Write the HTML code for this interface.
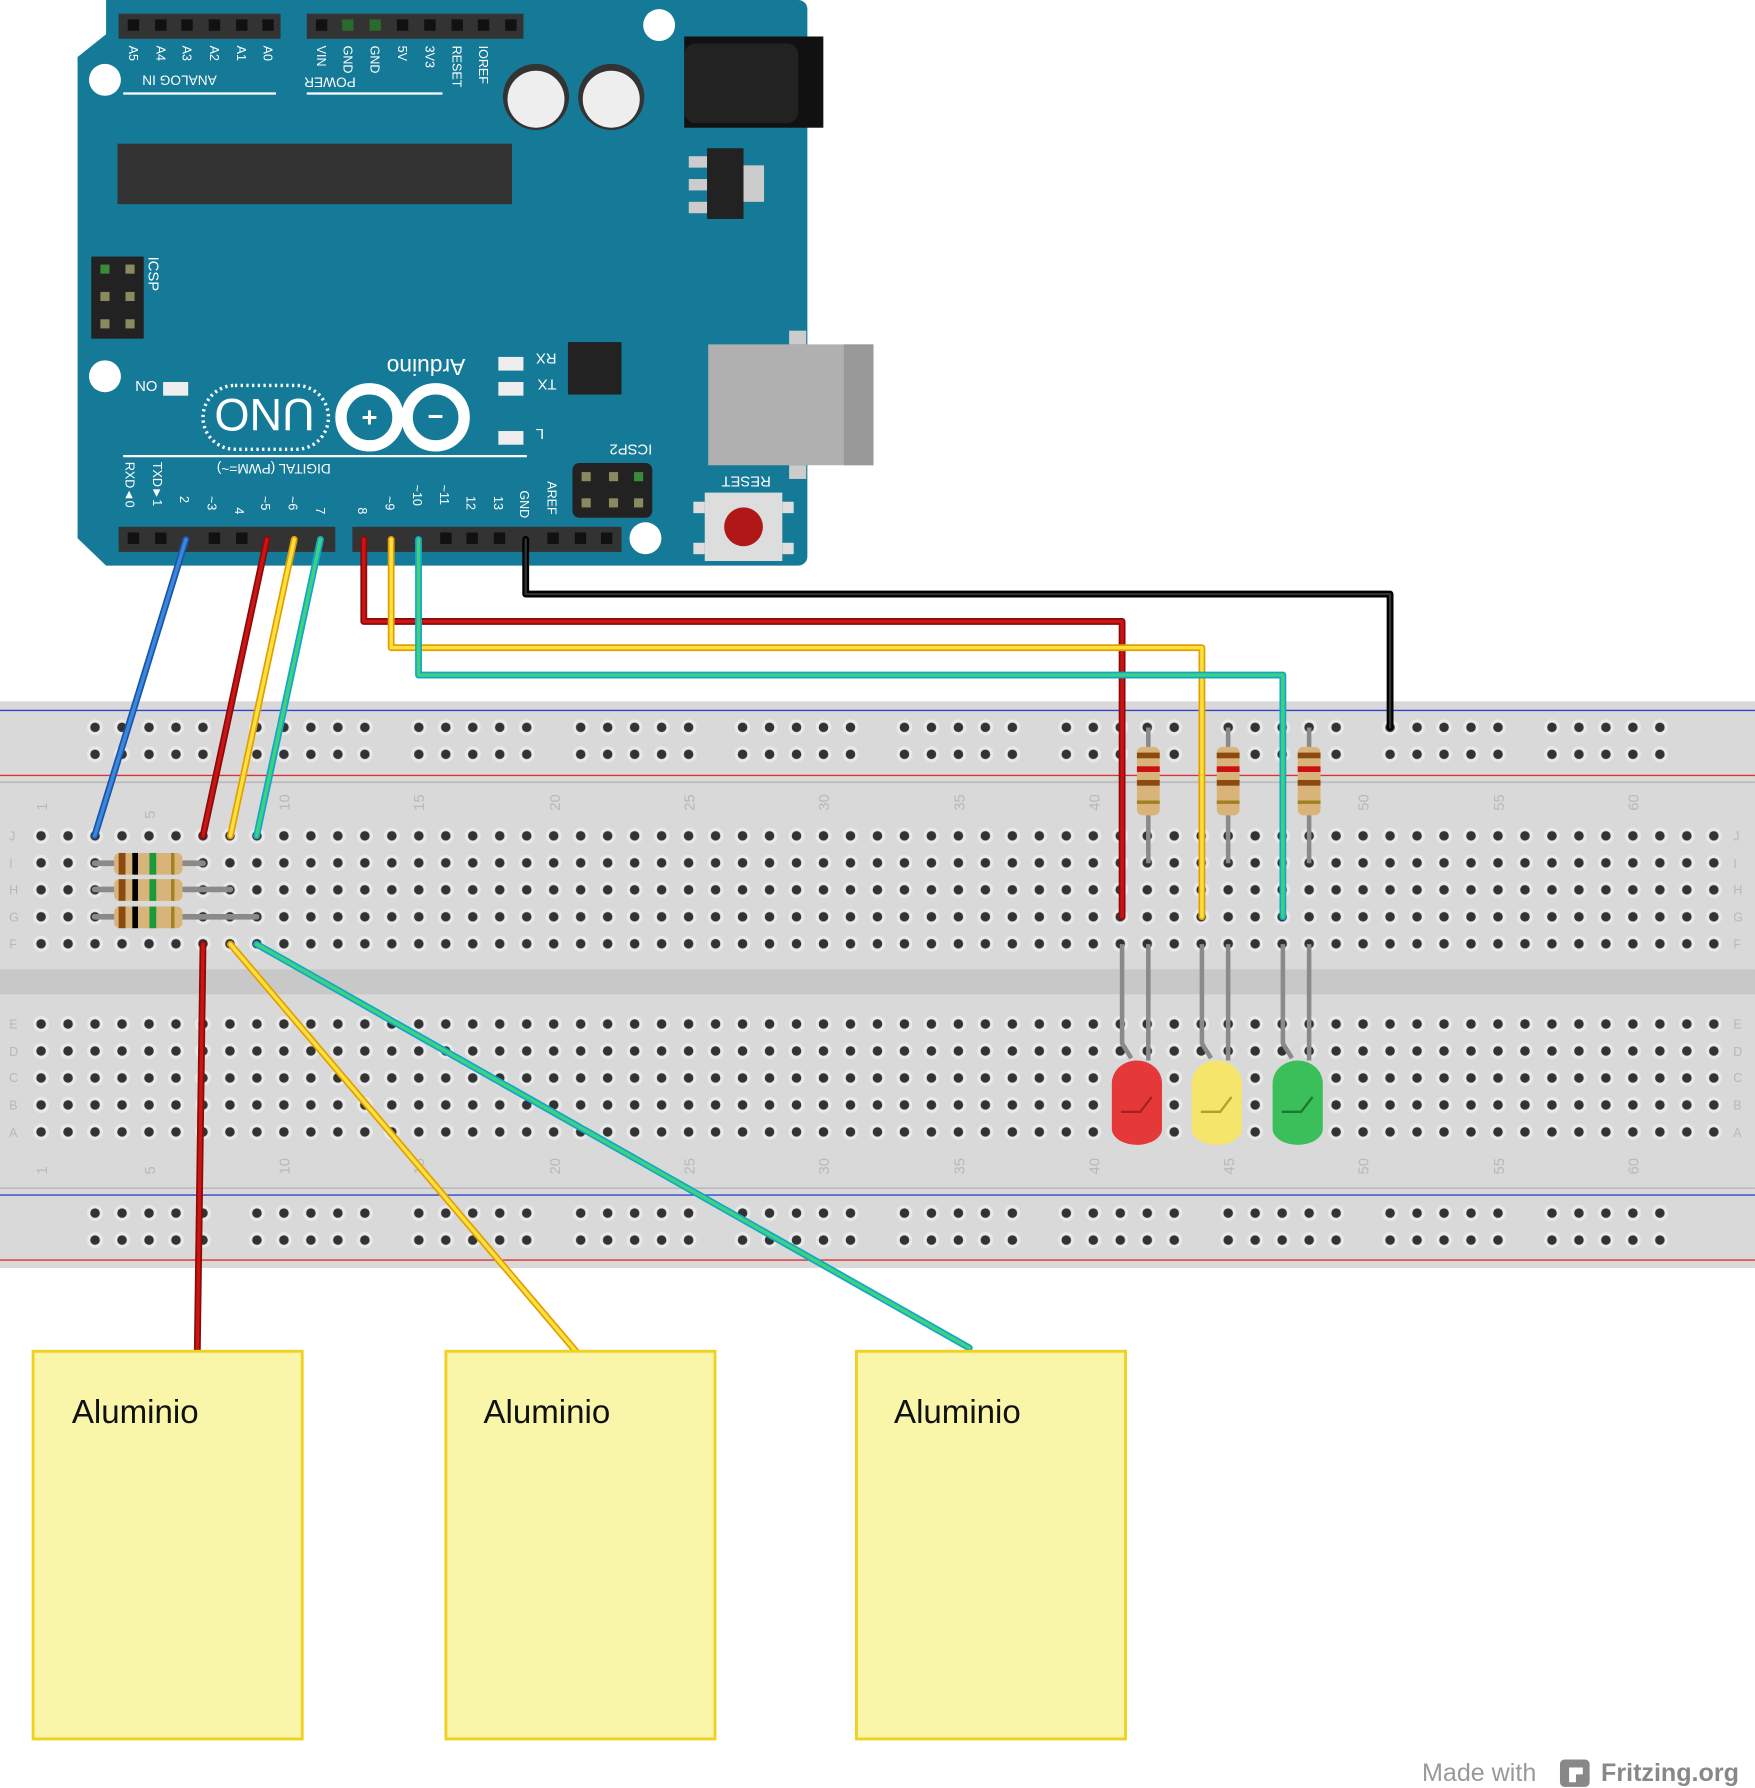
<!DOCTYPE html>
<html><head><meta charset="utf-8"><style>html,body{margin:0;padding:0;background:#fff}svg{display:block}</style></head><body>
<svg width="1755" height="1788" viewBox="0 0 1539 1568" xmlns="http://www.w3.org/2000/svg" font-family="Liberation Sans, sans-serif">
<defs>
<pattern id="h" x="24.17" y="721.17" width="23.66" height="23.66" patternUnits="userSpaceOnUse">
<circle cx="11.83" cy="11.83" r="7" fill="#e9e9e9"/><circle cx="11.83" cy="11.83" r="4.2" fill="#333"/></pattern>
<pattern id="h2" x="24.17" y="886.17" width="23.66" height="23.66" patternUnits="userSpaceOnUse">
<circle cx="11.83" cy="11.83" r="7" fill="#e9e9e9"/><circle cx="11.83" cy="11.83" r="4.2" fill="#333"/></pattern>
<pattern id="r" x="71.5" y="626" width="141.96" height="23.66" patternUnits="userSpaceOnUse">
<g fill="#e9e9e9"><circle cx="11.83" cy="11.83" r="7"/><circle cx="35.49" cy="11.83" r="7"/><circle cx="59.15" cy="11.83" r="7"/><circle cx="82.81" cy="11.83" r="7"/><circle cx="106.47" cy="11.83" r="7"/></g>
<g fill="#333"><circle cx="11.83" cy="11.83" r="4.2"/><circle cx="35.49" cy="11.83" r="4.2"/><circle cx="59.15" cy="11.83" r="4.2"/><circle cx="82.81" cy="11.83" r="4.2"/><circle cx="106.47" cy="11.83" r="4.2"/></g></pattern>
<pattern id="r2" x="71.5" y="1052" width="141.96" height="23.66" patternUnits="userSpaceOnUse">
<g fill="#e9e9e9"><circle cx="11.83" cy="11.83" r="7"/><circle cx="35.49" cy="11.83" r="7"/><circle cx="59.15" cy="11.83" r="7"/><circle cx="82.81" cy="11.83" r="7"/><circle cx="106.47" cy="11.83" r="7"/></g>
<g fill="#333"><circle cx="11.83" cy="11.83" r="4.2"/><circle cx="35.49" cy="11.83" r="4.2"/><circle cx="59.15" cy="11.83" r="4.2"/><circle cx="82.81" cy="11.83" r="4.2"/><circle cx="106.47" cy="11.83" r="4.2"/></g></pattern>
</defs>

<!-- Breadboard -->
<rect x="0" y="615" width="1539" height="497" fill="#d9d9d9"/>
<line x1="0" y1="623" x2="1539" y2="623" stroke="#3344cc" stroke-width="1.2"/>
<line x1="0" y1="680" x2="1539" y2="680" stroke="#dd3333" stroke-width="1.2"/>
<line x1="0" y1="686" x2="1539" y2="686" stroke="#bbb" stroke-width="1.5"/>
<rect x="0" y="850" width="1539" height="22" fill="#c8c8c8"/>
<line x1="0" y1="1042" x2="1539" y2="1042" stroke="#bbb" stroke-width="1.5"/>
<line x1="0" y1="1048" x2="1539" y2="1048" stroke="#3344cc" stroke-width="1.2"/>
<line x1="0" y1="1105" x2="1539" y2="1105" stroke="#dd3333" stroke-width="1.2"/>
<rect x="71.5" y="626" width="1396" height="48" fill="url(#r)"/>
<rect x="71.5" y="1052" width="1396" height="48" fill="url(#r2)"/>
<rect x="24.17" y="721.17" width="1490.6" height="118.3" fill="url(#h)"/>
<rect x="24.17" y="886.17" width="1490.6" height="118.3" fill="url(#h2)"/>
<g fill="#b8b8b8" font-size="13">
<g transform="translate(41,711) rotate(-90)"><text>1</text></g>
<g transform="translate(136,718) rotate(-90)"><text>5</text></g>
<g transform="translate(254,711) rotate(-90)"><text>10</text></g>
<g transform="translate(372,711) rotate(-90)"><text>15</text></g>
<g transform="translate(491,711) rotate(-90)"><text>20</text></g>
<g transform="translate(609,711) rotate(-90)"><text>25</text></g>
<g transform="translate(727,711) rotate(-90)"><text>30</text></g>
<g transform="translate(846,711) rotate(-90)"><text>35</text></g>
<g transform="translate(964,711) rotate(-90)"><text>40</text></g>
<g transform="translate(1082,711) rotate(-90)"><text>45</text></g>
<g transform="translate(1200,711) rotate(-90)"><text>50</text></g>
<g transform="translate(1319,711) rotate(-90)"><text>55</text></g>
<g transform="translate(1437,711) rotate(-90)"><text>60</text></g>
<g transform="translate(41,1030) rotate(-90)"><text>1</text></g>
<g transform="translate(136,1030) rotate(-90)"><text>5</text></g>
<g transform="translate(254,1030) rotate(-90)"><text>10</text></g>
<g transform="translate(372,1030) rotate(-90)"><text>15</text></g>
<g transform="translate(491,1030) rotate(-90)"><text>20</text></g>
<g transform="translate(609,1030) rotate(-90)"><text>25</text></g>
<g transform="translate(727,1030) rotate(-90)"><text>30</text></g>
<g transform="translate(846,1030) rotate(-90)"><text>35</text></g>
<g transform="translate(964,1030) rotate(-90)"><text>40</text></g>
<g transform="translate(1082,1030) rotate(-90)"><text>45</text></g>
<g transform="translate(1200,1030) rotate(-90)"><text>50</text></g>
<g transform="translate(1319,1030) rotate(-90)"><text>55</text></g>
<g transform="translate(1437,1030) rotate(-90)"><text>60</text></g>
<g font-size="11"><text x="8" y="737">J</text><text x="8" y="761">I</text><text x="8" y="784">H</text><text x="8" y="808">G</text><text x="8" y="832">F</text>
<text x="8" y="902">E</text><text x="8" y="926">D</text><text x="8" y="949">C</text><text x="8" y="973">B</text><text x="8" y="997">A</text>
<text x="1520" y="737">J</text><text x="1520" y="761">I</text><text x="1520" y="784">H</text><text x="1520" y="808">G</text><text x="1520" y="832">F</text>
<text x="1520" y="902">E</text><text x="1520" y="926">D</text><text x="1520" y="949">C</text><text x="1520" y="973">B</text><text x="1520" y="997">A</text></g>
</g>

<!-- Left resistors -->
<g stroke="#8a8a8a" stroke-width="5" stroke-linecap="round">
<line x1="83" y1="757" x2="178" y2="757"/><line x1="83" y1="780" x2="202" y2="780"/><line x1="83" y1="804" x2="225" y2="804"/>
</g>
<g>
<rect x="100" y="748" width="60" height="19" rx="5" fill="#d9b47a"/><rect x="104" y="748" width="6" height="19" fill="#8a4a10"/><rect x="116" y="748" width="5" height="19" fill="#000"/><rect x="131" y="748" width="6" height="19" fill="#1a9a3a"/><rect x="150" y="748" width="3" height="19" fill="#a08020"/>
<rect x="100" y="771" width="60" height="19" rx="5" fill="#d9b47a"/><rect x="104" y="771" width="6" height="19" fill="#8a4a10"/><rect x="116" y="771" width="5" height="19" fill="#000"/><rect x="131" y="771" width="6" height="19" fill="#1a9a3a"/><rect x="150" y="771" width="3" height="19" fill="#a08020"/>
<rect x="100" y="795" width="60" height="19" rx="5" fill="#d9b47a"/><rect x="104" y="795" width="6" height="19" fill="#8a4a10"/><rect x="116" y="795" width="5" height="19" fill="#000"/><rect x="131" y="795" width="6" height="19" fill="#1a9a3a"/><rect x="150" y="795" width="3" height="19" fill="#a08020"/>
</g>

<!-- Vertical resistors -->
<g stroke="#8a8a8a" stroke-width="4">
<line x1="1007" y1="638" x2="1007" y2="757"/><line x1="1077" y1="638" x2="1077" y2="757"/><line x1="1148" y1="638" x2="1148" y2="757"/>
</g>
<g>
<rect x="997" y="655" width="20" height="60" rx="5" fill="#d9b47a"/><rect x="997" y="660" width="20" height="5" fill="#8a4a10"/><rect x="997" y="672" width="20" height="5" fill="#cc1111"/><rect x="997" y="684" width="20" height="5" fill="#8a4a10"/><rect x="997" y="702" width="20" height="3" fill="#a08020"/>
<rect x="1067" y="655" width="20" height="60" rx="5" fill="#d9b47a"/><rect x="1067" y="660" width="20" height="5" fill="#8a4a10"/><rect x="1067" y="672" width="20" height="5" fill="#cc1111"/><rect x="1067" y="684" width="20" height="5" fill="#8a4a10"/><rect x="1067" y="702" width="20" height="3" fill="#a08020"/>
<rect x="1138" y="655" width="20" height="60" rx="5" fill="#d9b47a"/><rect x="1138" y="660" width="20" height="5" fill="#8a4a10"/><rect x="1138" y="672" width="20" height="5" fill="#cc1111"/><rect x="1138" y="684" width="20" height="5" fill="#8a4a10"/><rect x="1138" y="702" width="20" height="3" fill="#a08020"/>
</g>

<!-- LEDs -->
<g stroke="#8a8a8a" stroke-width="4" fill="none">
<path d="M984 828 V915 L992 928"/><path d="M1007 828 V930"/>
<path d="M1054 828 V915 L1062 928"/><path d="M1077 828 V930"/>
<path d="M1125 828 V915 L1133 928"/><path d="M1148 828 V930"/>
</g>
<path d="M975 950 a22 20 0 0 1 44 0 V990 a22 14 0 0 1 -44 0 Z" fill="#e53838"/>
<path d="M1045 950 a22 20 0 0 1 44 0 V990 a22 14 0 0 1 -44 0 Z" fill="#f5e56a"/>
<path d="M1116 950 a22 20 0 0 1 44 0 V990 a22 14 0 0 1 -44 0 Z" fill="#3bbf5a"/>
<g fill="none" stroke-width="2"><path d="M983 975 H1000 L1010 962" stroke="#a82020"/><path d="M1053 975 H1070 L1080 962" stroke="#b0a030"/><path d="M1124 975 H1141 L1151 962" stroke="#1a7a30"/></g>

<!-- Arduino -->
<path d="M93 0 H700 a8 8 0 0 1 8 8 V488 a8 8 0 0 1 -8 8 H93 L68 472 V50 L93 30 Z" fill="#157a98"/>
<rect x="104" y="12" width="142" height="22" fill="#333"/><rect x="269" y="12" width="190" height="22" fill="#333"/>
<g fill="#111"><rect x="112" y="17" width="10" height="10"/><rect x="136" y="17" width="10" height="10"/><rect x="159" y="17" width="10" height="10"/><rect x="183" y="17" width="10" height="10"/><rect x="207" y="17" width="10" height="10"/><rect x="230" y="17" width="10" height="10"/>
<rect x="277" y="17" width="10" height="10"/><rect x="300" y="17" width="10" height="10" fill="#2a6a2a"/><rect x="324" y="17" width="10" height="10" fill="#2a6a2a"/><rect x="348" y="17" width="10" height="10"/><rect x="372" y="17" width="10" height="10"/><rect x="396" y="17" width="10" height="10"/><rect x="419" y="17" width="10" height="10"/><rect x="443" y="17" width="10" height="10"/></g>
<circle cx="578" cy="22" r="14" fill="#fff"/><circle cx="92" cy="70" r="14" fill="#fff"/><circle cx="92" cy="330" r="14" fill="#fff"/><circle cx="566" cy="472" r="14" fill="#fff"/>
<rect x="103" y="126" width="346" height="53" fill="#333"/>
<rect x="600" y="32" width="122" height="80" fill="#111"/><rect x="600" y="38" width="100" height="70" rx="10" fill="#222"/>
<circle cx="470" cy="85" r="29" fill="#333"/><circle cx="470" cy="87" r="25" fill="#eee"/>
<circle cx="536" cy="85" r="29" fill="#333"/><circle cx="536" cy="87" r="25" fill="#eee"/>
<rect x="620" y="130" width="32" height="62" fill="#222"/><rect x="604" y="137" width="16" height="10" fill="#ccc"/><rect x="604" y="157" width="16" height="10" fill="#ccc"/><rect x="604" y="177" width="16" height="10" fill="#ccc"/><rect x="652" y="145" width="18" height="32" fill="#ccc"/>
<rect x="80" y="225" width="46" height="72" fill="#222"/>
<g fill="#8a8a60"><rect x="88" y="232" width="8" height="8" fill="#3a8a3a"/><rect x="110" y="232" width="8" height="8"/><rect x="88" y="256" width="8" height="8"/><rect x="110" y="256" width="8" height="8"/><rect x="88" y="280" width="8" height="8"/><rect x="110" y="280" width="8" height="8"/></g>
<rect x="498" y="300" width="47" height="46" fill="#222"/>
<rect x="621" y="302" width="145" height="106" fill="#b0b0b0"/><rect x="740" y="302" width="26" height="106" fill="#999"/><rect x="692" y="290" width="15" height="12" fill="#ccc"/><rect x="692" y="408" width="15" height="12" fill="#ccc"/>
<rect x="618" y="432" width="68" height="60" fill="#ddd"/><rect x="608" y="440" width="10" height="10" fill="#ddd"/><rect x="686" y="440" width="10" height="10" fill="#ddd"/><rect x="608" y="476" width="10" height="10" fill="#ddd"/><rect x="686" y="476" width="10" height="10" fill="#ddd"/><circle cx="652" cy="462" r="17" fill="#b01818"/>
<rect x="502" y="406" width="70" height="48" rx="6" fill="#222"/>
<g fill="#8a8a60"><rect x="510" y="414" width="8" height="8"/><rect x="534" y="414" width="8" height="8"/><rect x="556" y="414" width="8" height="8" fill="#3a8a3a"/><rect x="510" y="437" width="8" height="8"/><rect x="534" y="437" width="8" height="8"/><rect x="556" y="437" width="8" height="8"/></g>
<rect x="437" y="313" width="22" height="12" fill="#eee"/><rect x="437" y="335" width="22" height="12" fill="#eee"/><rect x="437" y="378" width="22" height="12" fill="#eee"/><rect x="143" y="335" width="22" height="12" fill="#eee"/>
<rect x="178" y="338" width="110" height="56" rx="28" fill="none" stroke="#fff" stroke-width="3" stroke-dasharray="2 3"/>
<circle cx="324" cy="366" r="25" fill="none" stroke="#fff" stroke-width="10"/><circle cx="382" cy="366" r="25" fill="none" stroke="#fff" stroke-width="10"/>
<text x="317" y="374" fill="#fff" font-size="24" font-weight="bold">+</text><text x="375" y="373" fill="#fff" font-size="24" font-weight="bold">−</text>
<g fill="#fff"><text transform="translate(276,350) rotate(180)" font-size="40" textLength="88" lengthAdjust="spacingAndGlyphs">UNO</text>
<text transform="translate(408,315) rotate(180)" font-size="20">Arduino</text>
<text transform="translate(190,66) rotate(180)" font-size="12">ANALOG IN</text>
<text transform="translate(312,68) rotate(180)" font-size="12">POWER</text>
<text transform="translate(290,407) rotate(180)" font-size="12">DIGITAL (PWM=~)</text>
<text transform="translate(488,310) rotate(180)" font-size="13">RX</text>
<text transform="translate(488,333) rotate(180)" font-size="13">TX</text>
<text transform="translate(477,376) rotate(180)" font-size="13">L</text>
<text transform="translate(138,334) rotate(180)" font-size="13">ON</text>
<text transform="translate(676,418) rotate(180)" font-size="13">RESET</text>
<text transform="translate(572,390) rotate(180)" font-size="13">ICSP2</text>
<text transform="translate(130,225) rotate(90)" font-size="13">ICSP</text>
<g font-size="11">
<text transform="translate(113,40) rotate(90)">A5</text><text transform="translate(137,40) rotate(90)">A4</text><text transform="translate(160,40) rotate(90)">A3</text><text transform="translate(184,40) rotate(90)">A2</text><text transform="translate(208,40) rotate(90)">A1</text><text transform="translate(231,40) rotate(90)">A0</text>
<text transform="translate(278,40) rotate(90)">VIN</text><text transform="translate(301,40) rotate(90)">GND</text><text transform="translate(325,40) rotate(90)">GND</text><text transform="translate(349,40) rotate(90)">5V</text><text transform="translate(373,40) rotate(90)">3V3</text><text transform="translate(397,40) rotate(90)">RESET</text><text transform="translate(420,40) rotate(90)">IOREF</text>
<text transform="translate(110,405) rotate(90)">RXD◄0</text><text transform="translate(134,405) rotate(90)">TXD►1</text><text transform="translate(158,435) rotate(90)">2</text><text transform="translate(182,435) rotate(90)">~3</text><text transform="translate(206,445) rotate(90)">4</text><text transform="translate(229,435) rotate(90)">~5</text><text transform="translate(253,435) rotate(90)">~6</text><text transform="translate(277,445) rotate(90)">7</text>
<text transform="translate(314,445) rotate(90)">8</text><text transform="translate(338,435) rotate(90)">~9</text><text transform="translate(362,425) rotate(90)">~10</text><text transform="translate(386,425) rotate(90)">~11</text><text transform="translate(409,435) rotate(90)">12</text><text transform="translate(433,435) rotate(90)">13</text><text transform="translate(456,430) rotate(90)">GND</text><text transform="translate(480,422) rotate(90)">AREF</text>
</g>
</g>
<line x1="108" y1="82" x2="242" y2="82" stroke="#fff" stroke-width="2"/><line x1="269" y1="82" x2="388" y2="82" stroke="#fff" stroke-width="2"/>
<line x1="108" y1="400" x2="462" y2="400" stroke="#fff" stroke-width="2"/>
<rect x="104" y="462" width="190" height="22" fill="#333"/><rect x="309" y="462" width="236" height="22" fill="#333"/>
<g fill="#111"><rect x="112" y="467" width="10" height="10"/><rect x="136" y="467" width="10" height="10"/><rect x="183" y="467" width="10" height="10"/><rect x="207" y="467" width="10" height="10"/><rect x="386" y="467" width="10" height="10"/><rect x="409" y="467" width="10" height="10"/><rect x="433" y="467" width="10" height="10"/><rect x="480" y="467" width="10" height="10"/><rect x="504" y="467" width="10" height="10"/><rect x="527" y="467" width="10" height="10"/></g>

<!-- wires -->
<g fill="none" stroke-linecap="round" stroke-linejoin="round" stroke-width="6">
<line x1="163" y1="473" x2="83" y2="733" stroke="#1a55a8"/>
<line x1="163" y1="473" x2="83" y2="733" stroke="#3a88dd" stroke-width="3"/>
<line x1="234" y1="473" x2="178" y2="733" stroke="#8a0a0a"/><line x1="234" y1="473" x2="178" y2="733" stroke="#cc1414" stroke-width="3"/>
<line x1="258" y1="473" x2="202" y2="733" stroke="#e0a000"/><line x1="258" y1="473" x2="202" y2="733" stroke="#ffe040" stroke-width="3"/>
<line x1="281" y1="473" x2="225" y2="733" stroke="#10a8c8"/><line x1="281" y1="473" x2="225" y2="733" stroke="#40d080" stroke-width="3"/>
<path d="M461 473 V521 H1219 V638" stroke="#000"/><path d="M461 473 V521 H1219 V638" stroke="#333" stroke-width="2"/>
<path d="M319 473 V545 H984 V804" stroke="#8a0a0a"/><path d="M319 473 V545 H984 V804" stroke="#cc1414" stroke-width="3"/>
<path d="M343 473 V568 H1054 V804" stroke="#e0a000"/><path d="M343 473 V568 H1054 V804" stroke="#ffe040" stroke-width="3"/>
<path d="M367 473 V592 H1125 V804" stroke="#10a8c8"/><path d="M367 473 V592 H1125 V804" stroke="#40d080" stroke-width="3"/>
<line x1="178" y1="828" x2="173" y2="1185" stroke="#8a0a0a"/><line x1="178" y1="828" x2="173" y2="1185" stroke="#cc1414" stroke-width="3"/>
<line x1="202" y1="828" x2="505" y2="1185" stroke="#e0a000"/><line x1="202" y1="828" x2="505" y2="1185" stroke="#ffe040" stroke-width="3"/>
<line x1="225" y1="828" x2="850" y2="1182" stroke="#10a8c8"/><line x1="225" y1="828" x2="850" y2="1182" stroke="#40d080" stroke-width="3"/>
</g>

<!-- Aluminio boxes -->
<g fill="#f9f6aa" stroke="#f0d020" stroke-width="2.5">
<rect x="29" y="1185" width="236" height="340"/><rect x="391" y="1185" width="236" height="340"/><rect x="751" y="1185" width="236" height="340"/>
</g>
<g font-size="29" fill="#111"><text x="63" y="1248">Aluminio</text><text x="424" y="1248">Aluminio</text><text x="784" y="1248">Aluminio</text></g>

<text x="1247" y="1562" font-size="22" fill="#999">Made with</text>
<rect x="1368" y="1543" width="26" height="24" rx="4" fill="#888"/><path d="M1376 1563 V1550 H1388 V1556 H1382 V1563 Z" fill="#fff"/>
<text x="1404" y="1562" font-size="22" font-weight="bold" fill="#888">Fritzing.org</text>
</svg>
</body></html>
